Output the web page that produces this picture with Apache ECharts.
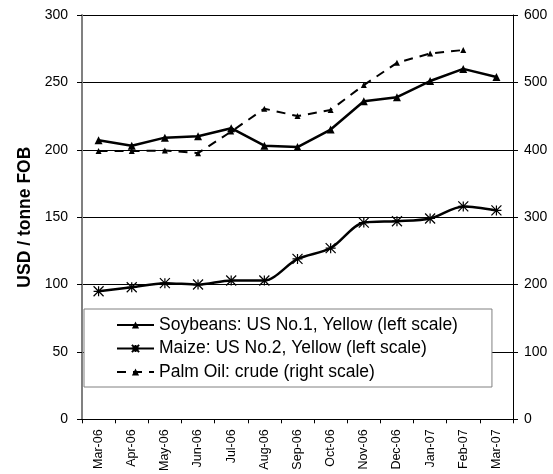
<!DOCTYPE html>
<html>
<head>
<meta charset="utf-8">
<script src="https://cdn.jsdelivr.net/npm/echarts@6/dist/echarts.min.js"></script>
<style>
  html, body { margin: 0; padding: 0; background: #fff; }
  #chart { width: 553px; height: 474px; }
</style>
</head>
<body>
<div id="chart"></div>
<script>
// monthly prices, USD / tonne FOB
const months = ['Mar-06', 'Apr-06', 'May-06', 'Jun-06', 'Jul-06', 'Aug-06', 'Sep-06',
  'Oct-06', 'Nov-06', 'Dec-06', 'Jan-07', 'Feb-07', 'Mar-07'];
const soybeans = [207, 203, 209, 210, 216, 203, 202, 215, 236, 239, 251, 260, 254];
const maize = [95, 98, 101, 100, 103, 103, 119, 127, 146, 147, 149, 158, 155];
const palmOil = [398, 398, 399, 395, 427, 461, 450, 459, 496, 529, 543, 548, null];
const leftTicks = [0, 50, 100, 150, 200, 250, 300];
const rightTicks = [0, 100, 200, 300, 400, 500, 600];

const chart = echarts.init(document.getElementById('chart'));
const font = 'Liberation Sans, Arial, sans-serif';
const asterisk = 'path://M0,0L10,10M10,0L0,10M5,0L5,10M0,5L10,5';

chart.setOption({
  animation: false,
  textStyle: { fontFamily: font },
  grid: { left: 82, right: 40, top: 15, bottom: 52 },
  legend: {
    orient: 'vertical',
    left: 84,
    top: 309,
    padding: [7, 34, 6, 32],
    itemGap: 5.5,
    itemWidth: 37,
    itemHeight: 9,
    backgroundColor: '#fff',
    borderColor: '#808080',
    borderWidth: 1,
    textStyle: { fontSize: 17.5, color: '#000', fontFamily: font },
    data: [
      { name: 'Soybeans: US No.1, Yellow (left scale)' },
      { name: 'Maize: US No.2, Yellow (left scale)' },
      { name: 'Palm Oil: crude (right scale)' }
    ]
  },
  xAxis: {
    type: 'category',
    data: months,
    boundaryGap: true,
    axisLine: { lineStyle: { color: '#000', width: 1 } },
    axisTick: { show: true, length: 4, inside: false, lineStyle: { color: '#000' } },
    axisLabel: { rotate: 90, fontSize: 12.5, color: '#000', margin: 10, interval: 0 }
  },
  yAxis: [
    {
      type: 'value',
      min: leftTicks[0],
      max: leftTicks[leftTicks.length - 1],
      interval: 50,
      name: 'USD / tonne FOB',
      nameLocation: 'middle',
      nameGap: 39,
      nameTextStyle: { fontSize: 17.5, fontWeight: 'bold', color: '#000', fontFamily: font },
      axisLine: { show: true, lineStyle: { color: '#808080', width: 2 } },
      axisTick: { show: true, length: 5, lineStyle: { color: '#000' } },
      axisLabel: { fontSize: 14, color: '#000', margin: 14 },
      splitLine: { show: true, lineStyle: { color: '#000', width: 1 } }
    },
    {
      type: 'value',
      min: rightTicks[0],
      max: rightTicks[rightTicks.length - 1],
      interval: 100,
      position: 'right',
      axisLine: { show: true, lineStyle: { color: '#000', width: 1 } },
      axisTick: { show: true, length: 5, lineStyle: { color: '#000' } },
      axisLabel: { fontSize: 14, color: '#000', margin: 11 },
      splitLine: { show: false }
    }
  ],
  series: [
    {
      name: 'Soybeans: US No.1, Yellow (left scale)',
      type: 'line',
      yAxisIndex: 0,
      data: soybeans,
      symbol: 'triangle',
      symbolSize: 8,
      lineStyle: { color: '#000', width: 2.5 },
      itemStyle: { color: '#000' }
    },
    {
      name: 'Maize: US No.2, Yellow (left scale)',
      type: 'line',
      yAxisIndex: 0,
      data: maize,
      smooth: 0.3,
      symbol: asterisk,
      symbolSize: 10,
      lineStyle: { color: '#000', width: 2.5 },
      itemStyle: { color: 'none', borderColor: '#000', borderWidth: 1.2 }
    },
    {
      name: 'Palm Oil: crude (right scale)',
      type: 'line',
      yAxisIndex: 1,
      data: palmOil,
      symbol: 'triangle',
      symbolSize: 6,
      lineStyle: { color: '#000', width: 2, type: [9, 7] },
      itemStyle: { color: '#000' }
    }
  ]
});
</script>
</body>
</html>
